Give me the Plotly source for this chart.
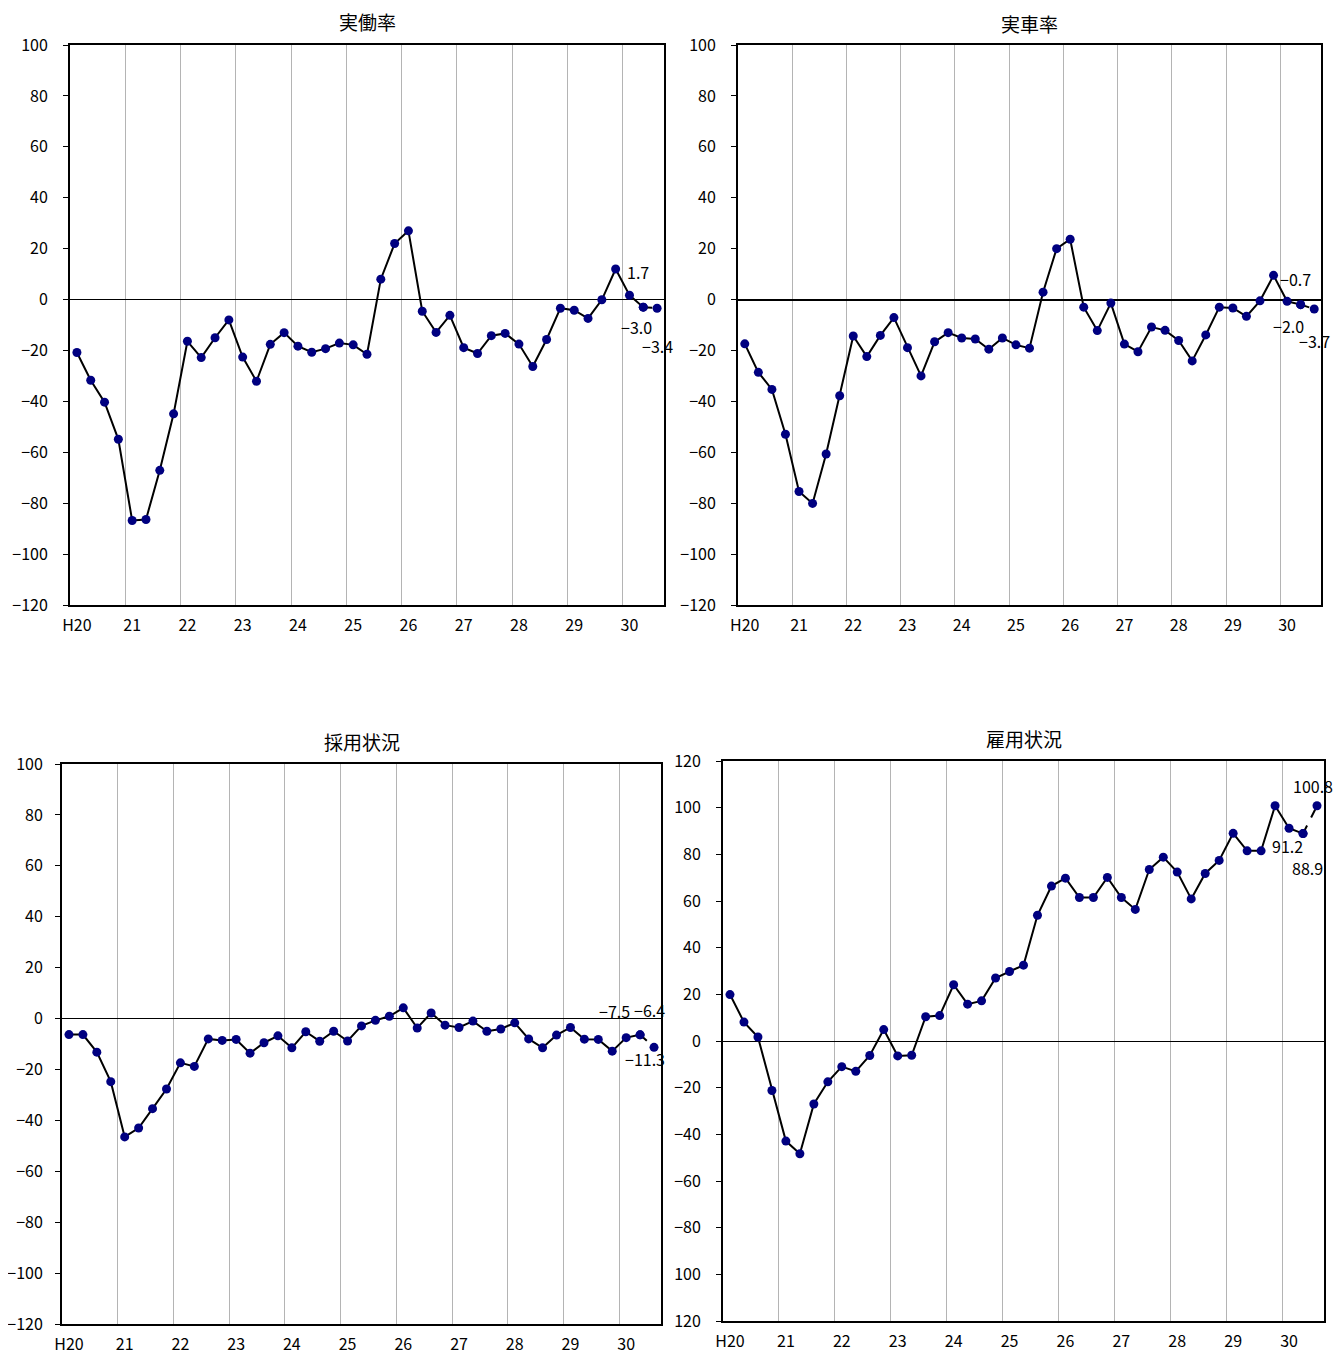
import plotly.graph_objects as go

# the page adds an 8px body margin, so the figure is drawn 8px smaller and shifted
OFF = 8
W, H = 1344 - OFF, 1356 - OFF

quarters = list(range(43))
year_ticks = [0, 4, 8, 12, 16, 20, 24, 28, 32, 36, 40]
year_labels = ["H20", "21", "22", "23", "24", "25", "26", "27", "28", "29", "30"]
year_bounds = [3.5, 7.5, 11.5, 15.5, 19.5, 23.5, 27.5, 31.5, 35.5, 39.5]

titles = ["実働率", "実車率", "採用状況", "雇用状況"]

jitsudo = [-20.8, -31.7, -40.3, -54.9, -86.8, -86.4, -67.1, -44.9, -16.4, -22.8,
           -15.0, -8.0, -22.6, -32.1, -17.6, -13.0, -18.3, -20.7, -19.3, -17.1,
           -17.8, -21.5, 8.0, 22.0, 27.0, -4.6, -12.9, -6.2, -18.9, -21.2,
           -14.2, -13.3, -17.5, -26.3, -15.7, -3.4, -4.2, -7.4, -0.1, 12.0,
           1.7, -3.0, -3.4]
jissha = [-17.4, -28.6, -35.3, -52.9, -75.4, -80.1, -60.7, -37.8, -14.3, -22.4,
          -14.1, -7.1, -18.9, -30.0, -16.6, -13.0, -15.1, -15.5, -19.5, -15.1,
          -17.8, -19.1, 2.9, 20.0, 23.7, -3.0, -12.2, -1.4, -17.5, -20.5,
          -10.8, -12.1, -16.1, -24.1, -13.9, -3.0, -3.3, -6.6, -0.5, 9.5,
          -0.7, -2.0, -3.7]
saiyo = [-6.3, -6.3, -13.2, -24.8, -46.5, -43.0, -35.4, -27.7, -17.4, -18.8,
         -8.0, -8.6, -8.2, -13.6, -9.5, -6.8, -11.5, -5.2, -8.9, -5.0,
         -8.8, -2.9, -0.7, 0.9, 4.2, -3.7, 2.2, -2.6, -3.5, -1.0,
         -5.0, -4.1, -1.7, -8.0, -11.5, -6.5, -3.5, -8.1, -8.2, -12.8,
         -7.5, -6.4, -11.3]
koyo = [19.9, 8.1, 1.7, -21.2, -42.9, -48.3, -27.0, -17.5, -11.0, -13.0,
        -6.2, 4.9, -6.4, -6.1, 10.4, 10.9, 24.1, 15.8, 17.2, 27.0,
        29.8, 32.5, 53.9, 66.4, 69.8, 61.5, 61.5, 70.1, 61.5, 56.4,
        73.5, 78.8, 72.4, 60.9, 71.8, 77.4, 89.0, 81.5, 81.5, 100.8,
        91.2, 88.9, 100.8]
series = [jitsudo, jissha, saiyo, koyo]

ytick_std = list(range(-120, 101, 20))
ytick_koyo = list(range(-120, 121, 20))


def fmt(v):
    return ("\u2212" + str(abs(v))) if v < 0 else str(v)


ytext_std = [fmt(v) for v in ytick_std]
ytext_koyo = ["120", "100"] + [fmt(v) for v in ytick_koyo[2:]]

# plot-area boxes in screen pixels: left, right, top, bottom
boxes = [(70, 664, 45, 605), (738, 1321, 45, 605),
         (62, 661, 764, 1324), (723, 1324, 761, 1321)]
title_y = [22, 23, 741, 738]   # screen y of title centres
ystandoff = [12, 12, 9, 12]
yranges = [(-120, 100), (-120, 100), (-120, 100), (-120, 120)]
zero_w = [1, 2, 1, 1]

# data label offsets (pixels) for last three points
label_offsets = [
    [(9, 23), (-7, -20), (0, -38)],
    [(8, 22), (-12, -21), (0, -32)],
    [(-12, 27), (9, 25), (-9, -12)],
    [(-2, -18), (4, -34), (-4, 20)],
]

FONT = "Noto Sans CJK JP"
NAVY = "#000080"

fig = go.Figure()
layout = dict(width=W, height=H, margin=dict(l=0, r=0, t=0, b=0),
              template="none",
              paper_bgcolor="white", plot_bgcolor="white", showlegend=False,
              font=dict(family=FONT, size=16, color="black"))
annotations = []

for i, vals in enumerate(series):
    n = i + 1
    xa = "x" if n == 1 else f"x{n}"
    ya = "y" if n == 1 else f"y{n}"
    l, r, t, b = [v - OFF for v in boxes[i]]
    fig.add_trace(go.Scatter(x=quarters[:42], y=vals[:42], xaxis=xa, yaxis=ya,
                             mode="lines+markers",
                             line=dict(color="black", width=2),
                             marker=dict(color=NAVY, size=9, line=dict(width=0)),
                             cliponaxis=False))
    fig.add_trace(go.Scatter(x=quarters[41:], y=vals[41:], xaxis=xa, yaxis=ya,
                             mode="lines+markers",
                             line=dict(color="black", width=2, dash="dash"),
                             marker=dict(color=NAVY, size=9, line=dict(width=0)),
                             cliponaxis=False))
    xkey = "xaxis" if n == 1 else f"xaxis{n}"
    ykey = "yaxis" if n == 1 else f"yaxis{n}"
    layout[xkey] = dict(domain=[l / W, r / W], anchor=ya, range=[-0.5, 42.5],
                        automargin=False,
                        tickmode="array", tickvals=year_ticks, ticktext=year_labels,
                        showgrid=False, zeroline=False, ticks="",
                        ticklabelstandoff=5,
                        showline=True, linecolor="black", linewidth=2, mirror=True,
                        tickfont=dict(size=16, family=FONT, color="black"),
                        minor=dict(tickvals=year_bounds, showgrid=True,
                                   gridcolor="#b4b4b4", gridwidth=1, ticks=""))
    ytv = ytick_koyo if i == 3 else ytick_std
    ytt = ytext_koyo if i == 3 else ytext_std
    layout[ykey] = dict(domain=[1 - b / H, 1 - t / H], anchor=xa,
                        automargin=False,
                        range=list(yranges[i]), tickmode="array",
                        tickvals=ytv, ticktext=ytt, showgrid=False,
                        zeroline=True, zerolinecolor="black", zerolinewidth=zero_w[i],
                        ticks="outside", ticklen=5, tickcolor="black", tickwidth=1,
                        ticklabelstandoff=ystandoff[i],
                        showline=True, linecolor="black", linewidth=2, mirror=True,
                        tickfont=dict(size=16, family=FONT, color="black"))
    # title
    annotations.append(dict(text=titles[i], xref="paper", yref="paper",
                            x=((l + r) / 2) / W, y=1 - (title_y[i] - OFF) / H,
                            xanchor="center", yanchor="middle", showarrow=False,
                            borderpad=0,
                            font=dict(size=19, family=FONT, color="black")))
    # data labels
    for k, idx in enumerate([40, 41, 42]):
        dx, dy = label_offsets[i][k]
        annotations.append(dict(text=f"{vals[idx]:.1f}".replace("-", "\u2212"),
                                xref=xa, yref=ya, x=idx, y=vals[idx],
                                xshift=dx, yshift=dy, showarrow=False,
                                font=dict(size=16, family=FONT, color="black")))

layout["annotations"] = annotations
fig.update_layout(**layout)
fig.write_html("out.html")
